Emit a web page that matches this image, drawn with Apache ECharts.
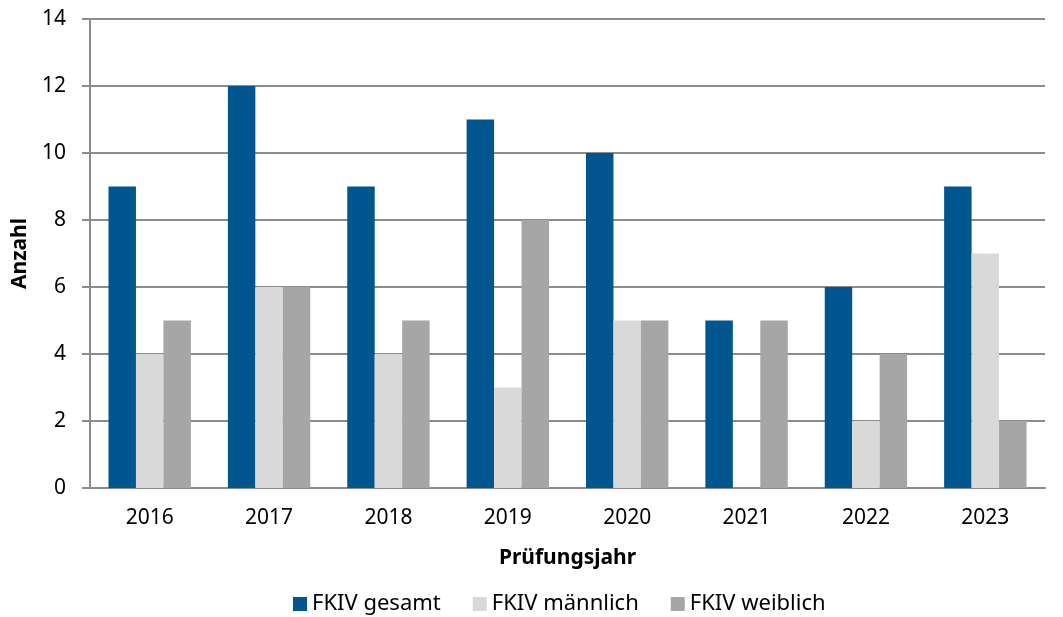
<!DOCTYPE html>
<html>
<head>
<meta charset="utf-8">
<script src="https://cdn.jsdelivr.net/npm/echarts@6/dist/echarts.min.js"></script>
<style>
  html, body { margin: 0; padding: 0; background: #fff; }
  #chart { width: 1063px; height: 617px; }
</style>
</head>
<body>
<div id="chart"></div>
<script>
var years = ['2016', '2017', '2018', '2019', '2020', '2021', '2022', '2023']
var gesamt = [9, 12, 9, 11, 10, 5, 6, 9]
var maennlich = [4, 6, 4, 3, 5, 0, 2, 7]
var weiblich = [5, 6, 5, 8, 5, 5, 4, 2]

var font = 'Noto Sans'
var chart = echarts.init(document.getElementById('chart'))

function bar(name, data, color) {
  return {
    name: name,
    type: 'bar',
    data: data,
    barGap: '0%',
    barCategoryGap: '31%',
    itemStyle: { color: color },
    animation: false
  }
}

chart.setOption({
  textStyle: { fontFamily: font },
  grid: { left: 90, top: 19, right: 18, bottom: 129, containLabel: false, outerBoundsMode: 'none' },
  legend: {
    top: 588,
    left: 288,
    itemWidth: 14,
    itemHeight: 14,
    itemGap: 32,
    icon: 'rect',
    textStyle: { fontSize: 22, color: '#000', fontFamily: font }
  },
  xAxis: {
    type: 'category',
    data: years,
    name: 'Prüfungsjahr',
    nameLocation: 'middle',
    nameGap: 60,
    nameTextStyle: { fontSize: 21, fontWeight: 'bold', color: '#000' },
    axisLine: { lineStyle: { color: '#8c8c8c', width: 2 } },
    axisTick: { length: 7, lineStyle: { color: '#8c8c8c', width: 2 } },
    axisLabel: { fontSize: 21, color: '#000', margin: 20 }
  },
  yAxis: {
    type: 'value',
    min: 0,
    max: 14,
    interval: 2,
    name: 'Anzahl',
    nameLocation: 'middle',
    nameGap: 59,
    nameTextStyle: { fontSize: 21, fontWeight: 'bold', color: '#000' },
    axisLine: { show: true, lineStyle: { color: '#8c8c8c', width: 2 } },
    axisTick: { show: true, length: 8, lineStyle: { color: '#8c8c8c', width: 2 } },
    axisLabel: { fontSize: 21, color: '#000', margin: 24 },
    splitLine: { lineStyle: { color: '#8c8c8c', width: 2 } }
  },
  series: [
    bar('FKIV gesamt', gesamt, '#00578f'),
    bar('FKIV männlich', maennlich, '#d9d9d9'),
    bar('FKIV weiblich', weiblich, '#a6a6a6')
  ]
})
</script>
</body>
</html>
